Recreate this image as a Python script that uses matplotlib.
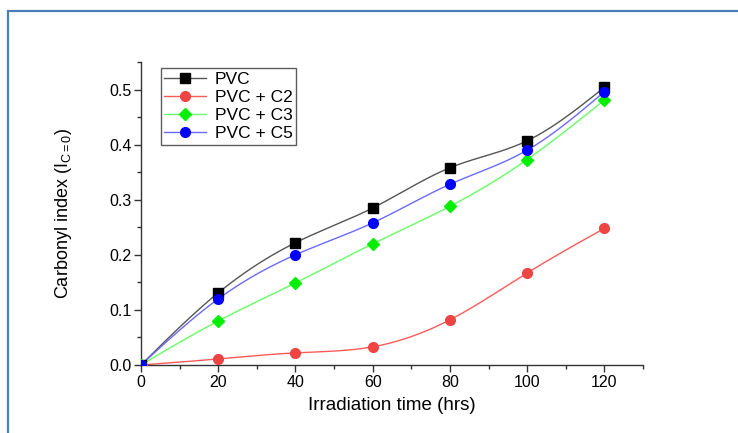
import numpy as np
import matplotlib
matplotlib.use("Agg")
import matplotlib.pyplot as plt
from matplotlib.patches import Rectangle
from matplotlib.ticker import MultipleLocator

plt.rcParams['font.family'] = ['Liberation Sans', 'DejaVu Sans']
plt.rcParams['mathtext.fontset'] = 'custom'
plt.rcParams['mathtext.rm'] = 'Liberation Sans'
plt.rcParams['mathtext.it'] = 'Liberation Sans'

time_hrs = [0, 20, 40, 60, 80, 100, 120]
pvc = [0.0, 0.131, 0.222, 0.285, 0.358, 0.407, 0.504]
pvc_c2 = [0.0, 0.011, 0.022, 0.033, 0.082, 0.167, 0.248]
pvc_c3 = [0.0, 0.080, 0.149, 0.220, 0.288, 0.373, 0.481]
pvc_c5 = [0.0, 0.120, 0.200, 0.258, 0.328, 0.390, 0.496]
labels = ["PVC", "PVC + C2", "PVC + C3", "PVC + C5"]


def smooth(x, y, n=200):
    # natural cubic spline through the points (line rendering only)
    x = np.asarray(x, float)
    y = np.asarray(y, float)
    k = len(x)
    h = np.diff(x)
    A = np.zeros((k, k))
    b = np.zeros(k)
    A[0, 0] = A[-1, -1] = 1
    for i in range(1, k - 1):
        A[i, i - 1] = h[i - 1]
        A[i, i] = 2 * (h[i - 1] + h[i])
        A[i, i + 1] = h[i]
        b[i] = 3 * ((y[i + 1] - y[i]) / h[i] - (y[i] - y[i - 1]) / h[i - 1])
    c = np.linalg.solve(A, b)
    xs = np.linspace(x[0], x[-1], n)
    ys = np.empty_like(xs)
    for j, xv in enumerate(xs):
        i = min(np.searchsorted(x, xv, side='right') - 1, k - 2)
        dx = xv - x[i]
        bi = (y[i + 1] - y[i]) / h[i] - h[i] * (2 * c[i] + c[i + 1]) / 3
        di = (c[i + 1] - c[i]) / (3 * h[i])
        ys[j] = y[i] + bi * dx + c[i] * dx ** 2 + di * dx ** 3
    return xs, ys


fig = plt.figure(figsize=(7.38, 4.33), dpi=100)
fig.patches.append(Rectangle((7.5 / 738, -0.1), 1.2, 1.1 - 11.5 / 433,
                             transform=fig.transFigure, fill=False,
                             edgecolor='#4a7ebb', linewidth=1.6, zorder=0))

ax = fig.add_axes([141 / 738, (433 - 365) / 433, (643 - 141) / 738, (365 - 62) / 433])

series = [
    (pvc, '#000000', '#555555', 's', 6.5),
    (pvc_c2, '#ee4444', '#ff5a5a', 'o', 7),
    (pvc_c3, '#00ee00', '#66ff66', 'D', 6.2),
    (pvc_c5, '#0000ff', '#6a6aff', 'o', 7),
]
for (vals, mc, lc, mk, ms), lab in zip(series, labels):
    xs, ys = smooth(time_hrs, vals)
    ax.plot(xs, ys, color=lc, lw=1.0, zorder=2)
    ax.plot(time_hrs, vals, linestyle='none', marker=mk, color=mc,
            markersize=ms, zorder=3)
    ax.plot([], [], color=lc, lw=1.0, marker=mk, markerfacecolor=mc,
            markeredgecolor=mc, markersize=ms, label=lab)

ax.set_xlim(0, 130)
ax.set_ylim(0, 0.55)
ax.xaxis.set_major_locator(MultipleLocator(20))
ax.xaxis.set_minor_locator(MultipleLocator(10))
ax.yaxis.set_major_locator(MultipleLocator(0.1))
ax.yaxis.set_minor_locator(MultipleLocator(0.05))
ax.yaxis.set_major_formatter(matplotlib.ticker.FormatStrFormatter('%.1f'))
for s in ['top', 'right']:
    ax.spines[s].set_visible(False)
for s in ['left', 'bottom']:
    ax.spines[s].set_color('#333333')
    ax.spines[s].set_linewidth(1.0)
ax.tick_params(which='major', direction='out', length=5, width=1, color='#333333',
               labelsize=11.5, pad=2)
ax.tick_params(which='minor', direction='out', length=3, width=1, color='#333333')

ax.set_xlabel('Irradiation time (hrs)', fontsize=13.5, labelpad=5)
ax.set_ylabel(r'Carbonyl index (I$_{\mathregular{C=0}}$)', fontsize=13, labelpad=25)

leg = ax.legend(loc='upper left', bbox_to_anchor=(20 / 502, 1 - 6 / 303),
                fontsize=12.5, frameon=True, fancybox=False, edgecolor='#333333',
                handlelength=2.4, handletextpad=0.5, borderpad=0.2,
                labelspacing=0.18, borderaxespad=0)
leg.get_frame().set_linewidth(1.0)

fig.savefig('out.png', dpi=100)
